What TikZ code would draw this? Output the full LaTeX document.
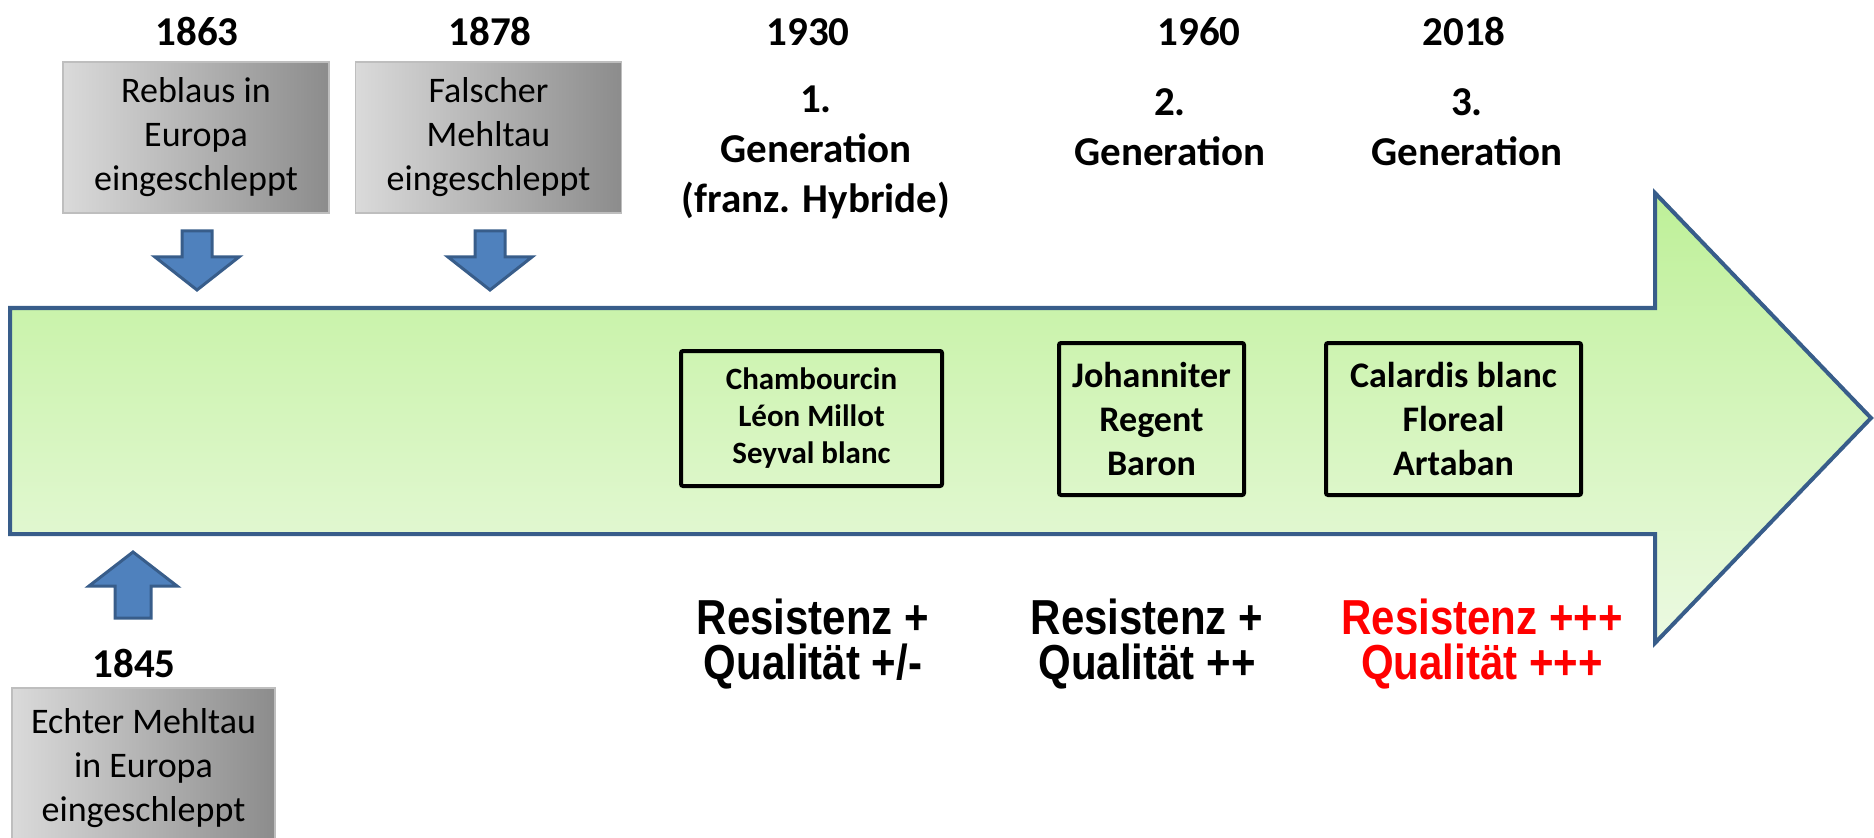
\documentclass[tikz,border=0pt]{standalone}
\usepackage{fontspec}
\usepackage{graphicx}
\setmainfont{Carlito}
\newfontfamily\arialfont{Liberation Sans}
\newcommand{\tallline}[1]{\scalebox{1}[1.17]{#1}}
\definecolor{arrowedge}{RGB}{56,93,138}
\definecolor{arrowtop}{RGB}{190,240,152}
\definecolor{arrowbottom}{RGB}{236,250,226}
\definecolor{blockfill}{RGB}{79,129,189}
\definecolor{boxlight}{RGB}{218,218,218}
\definecolor{boxdark}{RGB}{140,140,140}
\definecolor{boxedge}{RGB}{190,190,190}
\tikzset{
  pest/.style={shade, left color=boxlight, right color=boxdark, draw=boxedge, line width=0.6pt,
    align=center, inner sep=0pt, minimum width=133pt, minimum height=75.5pt,
    font=\fontsize{18}{22}\selectfont},
  year/.style={align=center, font=\bfseries\fontsize{20.5}{25}\selectfont},
  blockarr/.style={fill=blockfill, draw=arrowedge, line width=1.5pt, line join=miter},
  sorten/.style={draw=black, line width=2pt, rounded corners=1pt, align=center, inner sep=0pt,
    font=\bfseries\fontsize{18}{22}\selectfont},
  rating/.style={align=center, font=\arialfont\bfseries\fontsize{21}{22.5}\selectfont}
}
\begin{document}
\begin{tikzpicture}[x=0.5pt,y=0.5pt]
  \useasboundingbox (0,0) rectangle (1874,837);
  \clip (0,0) rectangle (1874,837);
  % timeline
  \path[draw=arrowedge, line width=2pt, top color=arrowtop, bottom color=arrowbottom]
    (10,303) -- (10,529) -- (1655,529) -- (1655,644) -- (1871,419) -- (1655,194) -- (1655,303) -- cycle;
  % pests
  \node[pest] (reblaus) at (196,699.5) {Reblaus in\\Europa\\eingeschleppt};
  \node[pest] (falsch) at (488.5,699.5) {Falscher\\Mehltau\\eingeschleppt};
  \node[pest, minimum width=131.5pt, minimum height=80pt] (echt) at (143.5,69) {Echter Mehltau\\in Europa\\eingeschleppt};
  \foreach \x in {197,490}
    \draw[blockarr] (\x-15,606) -- (\x+15,606) -- (\x+15,580) -- (\x+42,580) -- (\x,547) -- (\x-42,580) -- (\x-15,580) -- cycle;
  \draw[blockarr] (115,219) -- (151,219) -- (151,251) -- (177,251) -- (133,285) -- (89,251) -- (115,251) -- cycle;
  % years
  \node[year] (j1863) at (197,805) {1863};
  \node[year] (j1878) at (490,805) {1878};
  \node[year] (j1930) at (808,805) {1930};
  \node[year] (j1960) at (1199,805) {1960};
  \node[year] (j2018) at (1464,805) {2018};
  \node[year] (j1845) at (134,174) {1845};
  \node[year] (gen1) at (816,685) {1.\\Generation\\(franz. Hybride)};
  \node[year] (gen2) at (1170,710) {2.\\Generation};
  \node[year] (gen3) at (1467,710) {3.\\Generation};
  % varieties
  \node[sorten, minimum width=130.5pt, minimum height=67.5pt, font=\bfseries\fontsize{15.5}{18.5}\selectfont]
    (sorten1) at (811.5,418.5) {Chambourcin\\Léon Millot\\Seyval blanc};
  \node[sorten, minimum width=92.5pt, minimum height=76pt] (sorten2) at (1151.5,418) {Johanniter\\Regent\\Baron};
  \node[sorten, minimum width=127.5pt, minimum height=76pt] (sorten3) at (1453.5,418) {Calardis blanc\\Floreal\\Artaban};
  % ratings
  \node[rating] (qual1) at (813,193) {\tallline{Resistenz +}\\\tallline{Qualität +/-}};
  \node[rating] (qual2) at (1147,193) {\tallline{Resistenz +}\\\tallline{Qualität ++}};
  \node[rating, text=red] (qual3) at (1482,193) {\tallline{Resistenz +++}\\\tallline{Qualität +++}};
\end{tikzpicture}
\end{document}
